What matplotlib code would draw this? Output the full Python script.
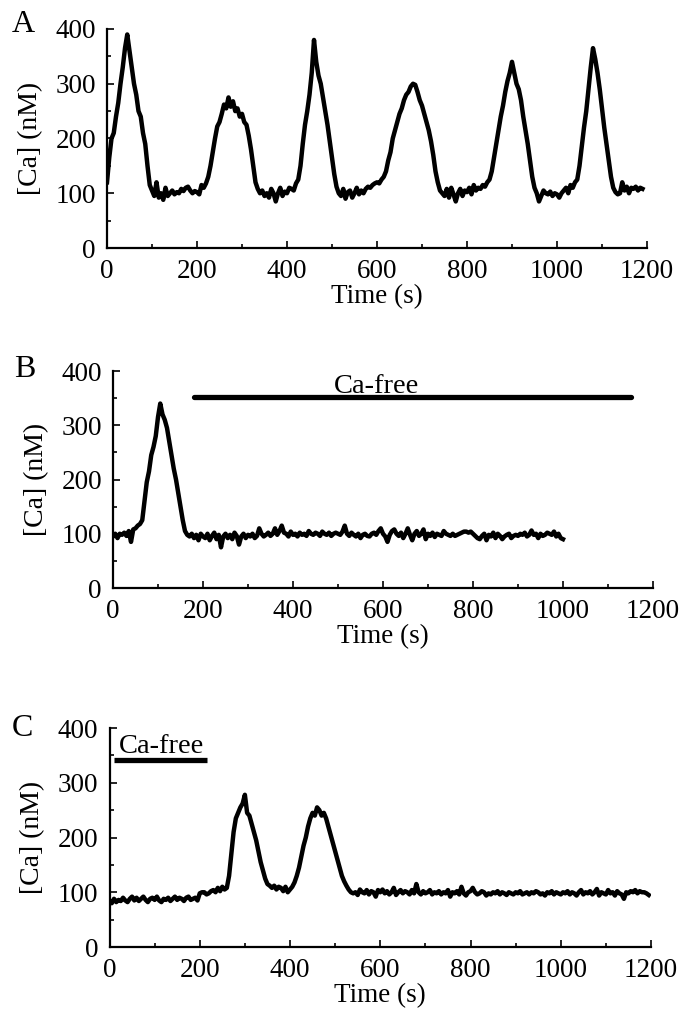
import numpy as np
import matplotlib.pyplot as plt
from matplotlib.ticker import MultipleLocator

plt.rcParams['font.family'] = ['Liberation Serif', 'DejaVu Serif']

ca_a = [120, 165, 200, 210, 240, 265, 300, 330, 365, 390, 360, 330, 300, 280, 250, 240, 210, 190, 150, 115,
        105, 95, 120, 92, 100, 88, 110, 95, 100, 105, 98, 102, 100, 108, 104, 110, 112, 105, 100, 104,
        102, 98, 115, 110, 118, 130, 150, 175, 200, 222, 230, 245, 262, 255, 275, 258, 268, 250, 255, 240,
        245, 230, 225, 205, 180, 150, 120, 108, 100, 105, 95, 100, 92, 108, 100, 85, 100, 110, 95, 103,
        100, 110, 108, 105, 118, 125, 150, 190, 225, 250, 280, 320, 380, 340, 315, 300, 275, 250, 225, 195,
        165, 135, 112, 100, 95, 108, 90, 102, 105, 92, 100, 110, 98, 105, 100, 108, 112, 110, 115, 118,
        120, 118, 125, 130, 140, 160, 175, 200, 215, 230, 245, 255, 270, 280, 285, 295, 300, 298, 285, 270,
        260, 245, 230, 215, 195, 170, 140, 120, 105, 100, 95, 108, 92, 110, 98, 85, 100, 108, 95, 105,
        102, 110, 98, 115, 105, 110, 108, 115, 112, 120, 125, 140, 165, 190, 215, 240, 260, 285, 305, 320,
        340, 320, 300, 290, 270, 240, 215, 190, 160, 130, 110, 100, 85, 95, 105, 100, 98, 103, 95, 100,
        98, 92, 100, 105, 110, 100, 115, 110, 120, 125, 150, 185, 220, 250, 290, 330, 365, 345, 320, 290,
        255, 220, 190, 160, 130, 110, 102, 98, 100, 120, 105, 112, 100, 110, 108, 112, 105, 110, 108]

ca_b = [95, 100, 92, 100, 98, 102, 96, 105, 85, 108, 110, 115, 118, 125, 160, 195, 215, 245, 260, 280,
        315, 340, 320, 310, 295, 270, 245, 220, 200, 175, 150, 125, 105, 98, 95, 100, 92, 98, 88, 100,
        95, 92, 100, 88, 96, 102, 90, 98, 75, 95, 100, 92, 98, 90, 102, 96, 80, 95, 100, 92,
        98, 95, 100, 92, 96, 110, 100, 95, 98, 102, 96, 100, 110, 98, 105, 115, 102, 100, 95, 104,
        98, 100, 95, 102, 98, 100, 96, 105, 100, 98, 102, 100, 96, 104, 100, 98, 102, 96, 100, 102,
        100, 98, 104, 115, 100, 96, 102, 98, 95, 100, 92, 98, 100, 96, 95, 100, 102, 98, 105, 110,
        100, 95, 85, 98, 105, 108, 100, 96, 102, 92, 100, 110, 98, 88, 100, 105, 96, 100, 108, 90,
        100, 96, 102, 94, 100, 98, 96, 105, 100, 98, 96, 100, 96, 98, 100, 102, 104, 104, 102, 104,
        100, 96, 92, 90, 96, 100, 88, 98, 95, 102, 92, 100, 96, 90, 95, 98, 100, 92, 96, 98,
        96, 100, 98, 102, 95, 98, 106, 98, 100, 92, 100, 96, 98, 102, 100, 98, 104, 95, 100, 92, 90]

ca_c = [85, 80, 88, 82, 86, 84, 90, 85, 82, 88, 92, 85, 90, 84, 88, 92, 86, 82, 88, 90,
        86, 92, 85, 82, 88, 86, 90, 84, 88, 92, 86, 90, 88, 84, 90, 92, 86, 88, 90, 85,
        98, 100, 100, 96, 98, 102, 104, 100, 108, 102, 110, 105, 108, 130, 170, 210, 235, 245, 255, 262,
        278, 245, 240, 225, 210, 195, 175, 155, 140, 125, 115, 112, 108, 112, 105, 110, 108, 102, 110, 100,
        105, 110, 118, 130, 145, 165, 185, 200, 220, 235, 245, 240, 255, 250, 240, 245, 235, 220, 205, 190,
        175, 160, 145, 130, 120, 112, 105, 100, 98, 100, 95, 105, 100, 98, 104, 96, 102, 100, 92, 104,
        100, 105, 98, 102, 96, 100, 108, 95, 100, 104, 98, 102, 100, 96, 104, 98, 115, 100, 96, 102,
        98, 100, 104, 96, 100, 98, 102, 96, 100, 98, 104, 92, 100, 98, 102, 96, 110, 98, 94, 100,
        102, 108, 100, 96, 98, 102, 100, 94, 98, 96, 100, 98, 102, 96, 100, 98, 95, 100, 98, 96,
        100, 98, 102, 96, 98, 100, 96, 100, 98, 102, 100, 96, 98, 94, 100, 98, 102, 96, 100, 98,
        96, 100, 98, 102, 96, 100, 98, 94, 100, 104, 96, 100, 98, 102, 96, 100, 106, 94, 100, 98,
        96, 104, 98, 100, 94, 102, 98, 96, 88, 100, 98, 102, 100, 104, 98, 102, 100, 100, 98, 95]

t_a = np.arange(len(ca_a)) * 5
t_b = np.arange(len(ca_b)) * 5
t_c = np.arange(len(ca_c)) * 5

# Ca-free periods (s) and level of the bar (nM)
free_b = (180, 1152, 352)
free_c = (10, 215, 341)

fig = plt.figure(figsize=(6.89, 10.21), dpi=100)
W, H = 689, 1021


def make_axes(x0, y_top, y_bot, x1):
    ax = fig.add_axes([x0 / W, 1 - y_bot / H, (x1 - x0) / W, (y_bot - y_top) / H])
    ax.set_xlim(0, 1200)
    ax.set_ylim(0, 400)
    ax.set_xticks(range(0, 1201, 200))
    ax.set_yticks(range(0, 401, 100))
    ax.xaxis.set_minor_locator(MultipleLocator(100))
    ax.yaxis.set_minor_locator(MultipleLocator(50))
    ax.tick_params(which='both', direction='in', labelsize=19.5, width=1.2)
    ax.tick_params(which='major', length=5, pad=8)
    ax.tick_params(which='minor', length=3)
    for s in ('top', 'right'):
        ax.spines[s].set_visible(False)
    for s in ('left', 'bottom'):
        ax.spines[s].set_linewidth(1.6)
    ax.set_xlabel('Time (s)', fontsize=19.5, labelpad=0)
    ax.set_ylabel('[Ca] (nM)', fontsize=20, labelpad=9)
    return ax


ax_a = make_axes(107, 29, 248, 647)
ax_a.plot(t_a, ca_a, color='black', lw=3.2)

ax_b = make_axes(113, 371, 588, 653)
ax_b.plot(t_b, ca_b, color='black', lw=3.2)
ax_b.plot(free_b[:2], [free_b[2]] * 2, color='black', lw=3.8, solid_capstyle='round')
ax_b.text((free_b[0] + free_b[1]) / 2 - 80, free_b[2] - 3, 'Ca-free', ha='center', va='bottom', fontsize=20.5)

ax_c = make_axes(109.5, 728, 947, 651)
ax_c.plot(t_c, ca_c, color='black', lw=3.2)
ax_c.plot(free_c[:2], [free_c[2]] * 2, color='black', lw=3.8, solid_capstyle='butt')
ax_c.text(free_c[0] + 10, free_c[2] + 3, 'Ca-free', ha='left', va='bottom', fontsize=20.5)

fig.text(12 / W, 1 - 10 / H, 'A', fontsize=23, va='top', ha='left')
fig.text(14 / W, 1 - 355 / H, 'B', fontsize=23, va='top', ha='left')
fig.text(12 / W, 1 - 714 / H, 'C', fontsize=23, va='top', ha='left')

fig.savefig('out.png', dpi=100)
